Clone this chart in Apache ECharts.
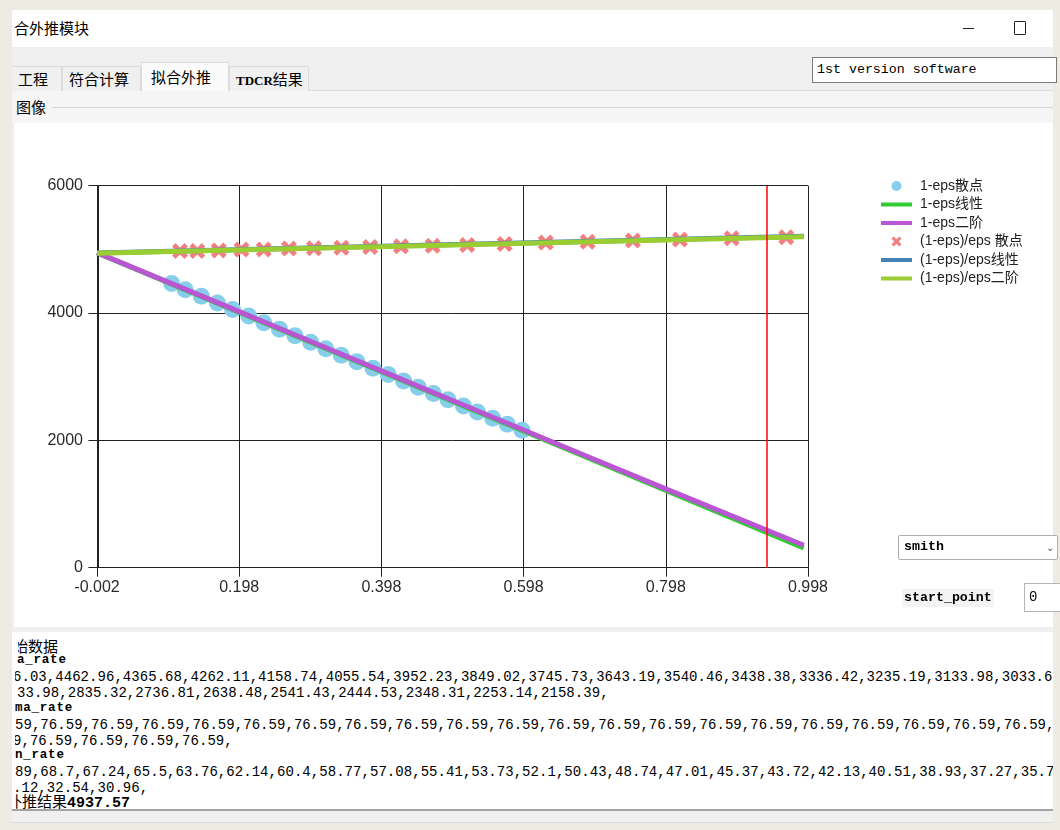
<!DOCTYPE html>
<html>
<head>
<meta charset="utf-8">
<script src="https://cdn.jsdelivr.net/npm/echarts@6/dist/echarts.min.js"></script>
<style>
html,body{margin:0;padding:0;width:1060px;height:830px;overflow:hidden;background:#eeebe2;font-family:"Noto Sans CJK SC","Liberation Sans",sans-serif;color:#000;}
.a{position:absolute;}
.mono{font-family:"Liberation Mono","DejaVu Sans Mono",monospace;white-space:pre;}
.tab{position:absolute;background:#f0f0f0;border:1px solid #dcdcdc;border-bottom:none;font-size:15px;line-height:24px;box-sizing:border-box;white-space:nowrap;}
.dl{position:absolute;left:0;white-space:pre;font-family:"Liberation Mono","DejaVu Sans Mono",monospace;font-size:14px;letter-spacing:0.05px;line-height:16px;}
.lb{position:absolute;white-space:pre;font-family:"Liberation Mono","DejaVu Sans Mono",monospace;font-size:12.5px;font-weight:bold;letter-spacing:0.8px;line-height:14px;}
</style>
</head>
<body>
<!-- window frame -->
<div class="a" style="left:12px;top:10px;width:1041px;height:812px;background:#f0f0f0;"></div>
<!-- title bar -->
<div class="a" style="left:12px;top:10px;width:1041px;height:37px;background:#ffffff;"></div>
<div class="a" style="left:14px;top:17px;font-size:15px;line-height:22px;">合外推模块</div>
<div class="a" style="left:963px;top:28px;width:11px;height:1px;background:#222;"></div>
<div class="a" style="left:1014px;top:21px;width:10px;height:12px;border:1px solid #222;border-radius:1px;"></div>
<!-- tabs -->
<div class="a" style="left:12px;top:90px;width:1041px;height:1px;background:#dcdcdc;"></div>
<div class="tab" style="left:12px;top:66px;width:50px;height:25px;border-left:none;padding-left:6px;">工程</div>
<div class="tab" style="left:62px;top:66px;width:79px;height:25px;padding-left:6px;">符合计算</div>
<div class="tab" style="left:141px;top:62px;width:88px;height:30px;background:#fafafa;padding-left:9px;line-height:28px;">拟合外推</div>
<div class="tab" style="left:229px;top:66px;width:80px;height:25px;padding-left:6px;"><span style="font-family:'Liberation Serif',serif;font-size:13px;font-weight:bold;">TDCR</span>结果</div>
<div class="a mono" style="left:812px;top:57px;width:245px;height:26px;box-sizing:border-box;border:1px solid #7a7a7a;background:#fff;font-size:13.3px;line-height:24px;padding-left:4px;">1st version software</div>
<!-- group box -->
<div class="a" style="left:12px;top:91px;width:1041px;height:32px;background:#f5f5f5;"></div>
<div class="a" style="left:52px;top:107px;width:1001px;height:1px;background:#d6d6d6;"></div>
<div class="a" style="left:16px;top:97px;font-size:15px;line-height:20px;">图像</div>
<!-- chart panel -->
<div class="a" style="left:14px;top:123px;width:1039px;height:504px;background:#fff;"></div>
<div id="chart" class="a" style="left:14px;top:123px;width:1039px;height:504px;"></div>
<!-- right controls -->
<div class="a" style="left:898px;top:535px;width:160px;height:25px;box-sizing:border-box;border:1px solid #adadad;border-radius:2px;background:#fff;"></div>
<div class="a mono" style="left:904px;top:538px;font-size:13.3px;font-weight:bold;line-height:18px;">smith</div>
<div class="a" style="left:1046px;top:541px;font-size:10px;color:#555;line-height:12px;">⌄</div>
<div class="a mono" style="left:902px;top:589px;padding:0 2px;background:#f3f3f3;font-size:13.3px;font-weight:bold;line-height:18px;">start_point</div>
<div class="a" style="left:1024px;top:583px;width:40px;height:29px;box-sizing:border-box;border:1px solid #b5b5b5;background:#fff;"></div>
<div class="a mono" style="left:1029px;top:588px;font-size:14px;line-height:18px;">0</div>
<!-- data text box -->
<div class="a" style="left:12px;top:627px;width:1041px;height:5px;background:#f0f0f0;"></div>
<div class="a" style="left:12px;top:632px;width:1041px;height:177px;background:#fff;border-bottom:2px solid #a3a3a3;"></div>
<div id="txt" class="a" style="left:15px;top:632px;width:1038px;height:177px;overflow:hidden;"></div>
<div class="a" style="left:12px;top:811px;width:1041px;height:11px;background:#f0f0f0;border-bottom:1px solid #dcdcdc;"></div>

<script>
// ---- data ----
const legendNames = ['1-eps散点', '1-eps线性', '1-eps二阶', '(1-eps)/eps 散点', '(1-eps)/eps线性', '(1-eps)/eps二阶'];
const xTickLabels = ['-0.002', '0.198', '0.398', '0.598', '0.798', '0.998'];
const yTickLabels = ['0', '2000', '4000', '6000'];

// 1-eps scatter
const oneMinusEps = [0.1030, 0.1221, 0.1448, 0.1675, 0.1887, 0.2114, 0.2327, 0.2547, 0.2765, 0.2985, 0.3198, 0.3416,
  0.3636, 0.3862, 0.4076, 0.4292, 0.4499, 0.4711, 0.4917, 0.5134, 0.5331, 0.5545, 0.5751, 0.5958];
const betaRate = [4462.96, 4365.68, 4262.11, 4158.74, 4055.54, 3952.23, 3849.02, 3745.73, 3643.19, 3540.46, 3438.38, 3336.42,
  3235.19, 3133.98, 3033.69, 2933.98, 2835.32, 2736.81, 2638.48, 2541.43, 2444.53, 2348.31, 2253.14, 2158.39];
// (1-eps)/eps scatter
const ratioX = [0.1148, 0.1391, 0.1693, 0.2012, 0.2325, 0.2680, 0.3032, 0.3418, 0.3822, 0.4255, 0.4701, 0.5187, 0.5714,
  0.6292, 0.6881, 0.7518, 0.8179, 0.8906, 0.9674];
const ratioY = [4975, 4973, 4984, 4996, 4999, 5012, 5016, 5026, 5036, 5047, 5055, 5067, 5084, 5106, 5121, 5140, 5155, 5174, 5191];
// fitted curves (sampled)
const lin1X = [-0.002, 0.992];
const lin1Y = [4945, 310];
const quad1X = [-0.002, 0.198, 0.398, 0.598, 0.798, 0.992];
const quad1Y = [4948, 4022, 3092, 2162, 1238, 352];
const lin2X = [-0.002, 0.992];
const lin2Y = [4944, 5206];
const quad2X = [-0.002, 0.5, 0.992];
const quad2Y = [4940, 5068, 5200];
const markX = 0.943;

// text box lines
const textLines = [
  {t: '原始数据', cls: 'cjk', top: 4, left: -17, clip: 3},
  {t: 'beta_rate', cls: 'lb', top: 21, left: -23},
  {t: '6.03,4462.96,4365.68,4262.11,4158.74,4055.54,3952.23,3849.02,3745.73,3643.19,3540.46,3438.38,3336.42,3235.19,3133.98,3033.69', cls: 'dl', top: 37, left: -2},
  {t: '33.98,2835.32,2736.81,2638.48,2541.43,2444.53,2348.31,2253.14,2158.39,', cls: 'dl', top: 53, left: 2},
  {t: 'gamma_rate', cls: 'lb', top: 69, left: -25},
  {t: '59,76.59,76.59,76.59,76.59,76.59,76.59,76.59,76.59,76.59,76.59,76.59,76.59,76.59,76.59,76.59,76.59,76.59,76.59,76.59,76.59,76.59,76.59', cls: 'dl', top: 85, left: 0},
  {t: '9,76.59,76.59,76.59,76.59,', cls: 'dl', top: 101, left: -2},
  {t: 'coin_rate', cls: 'lb', top: 116, left: -25},
  {t: '89,68.7,67.24,65.5,63.76,62.14,60.4,58.77,57.08,55.41,53.73,52.1,50.43,48.74,47.01,45.37,43.72,42.13,40.51,38.93,37.27,35.76', cls: 'dl', top: 132, left: 0},
  {t: '.12,32.54,30.96,', cls: 'dl', top: 148, left: -2},
  {t: '外推结果', cls: 'cjk', top: 159, left: -8, clip: 0, tail: '4937.57'}
];
</script>
<script>
(function(){
  const box = document.getElementById('txt');
  textLines.forEach(function(l){
    const d = document.createElement('div');
    d.style.position = 'absolute';
    d.style.whiteSpace = 'pre';
    if (l.cls === 'cjk') {
      // own clip so the first glyph is cut as in the screenshot
      const w = document.createElement('div');
      w.style.position = 'absolute';
      w.style.left = l.clip + 'px';
      w.style.top = l.top + 'px';
      w.style.width = '600px';
      w.style.height = '22px';
      w.style.overflow = 'hidden';
      d.style.left = (l.left - l.clip) + 'px';
      d.style.top = '0px';
      d.style.fontSize = '15px';
      d.style.lineHeight = '19px';
      d.textContent = l.t;
      if (l.tail) {
        const s = document.createElement('span');
        s.style.fontFamily = '"Liberation Mono",monospace';
        s.style.fontWeight = 'bold';
        s.style.fontSize = '15px';
        s.textContent = l.tail;
        d.appendChild(s);
      }
      w.appendChild(d);
      box.appendChild(w);
    } else {
      d.className = l.cls;
      d.style.top = l.top + 'px';
      d.style.left = l.left + 'px';
      d.textContent = l.t;
      box.appendChild(d);
    }
  });
})();

const pairs = (xs, ys) => xs.map((x, i) => [x, ys[i]]);
const crossPath = 'path://M0,2.2 L2.2,0 L5,2.8 L7.8,0 L10,2.2 L7.2,5 L10,7.8 L7.8,10 L5,7.2 L2.2,10 L0,7.8 L2.8,5 Z';
const lineIcon = 'path://M0,0 L31,0 L31,4 L0,4 Z';
const FONT = '"Liberation Sans","Noto Sans CJK SC",Arial,sans-serif';

const chart = echarts.init(document.getElementById('chart'), null, {renderer: 'canvas'});
chart.setOption({
  animation: false,
  backgroundColor: '#ffffff',
  grid: {left: 83, top: 62.7, width: 711, height: 382, containLabel: false},
  legend: {
    orient: 'vertical',
    left: 867, top: 56, padding: 0,
    itemWidth: 31, itemHeight: 10, itemGap: 4.5,
    textStyle: {fontSize: 14, color: '#222', fontFamily: FONT, padding: [0, 0, 0, 3]},
    data: legendNames.map((n, i) => ({name: n, icon: i === 0 ? 'circle' : (i === 3 ? crossPath : lineIcon)}))
  },
  xAxis: {
    type: 'value', min: -0.002, max: 0.998, interval: 0.2,
    axisLine: {show: true, onZero: false, lineStyle: {color: '#222', width: 1}},
    axisTick: {show: true, length: 9, lineStyle: {color: '#222'}},
    splitLine: {show: true, lineStyle: {color: '#222', width: 1}},
    axisLabel: {fontSize: 16, color: '#2b2b2b', margin: 12, fontFamily: FONT, showMinLabel: true, showMaxLabel: true,
      formatter: (v, i) => xTickLabels[i]}
  },
  yAxis: {
    type: 'value', min: 0, max: 6000, interval: 2000,
    axisLine: {show: true, lineStyle: {color: '#222', width: 1}},
    axisTick: {show: true, length: 10, lineStyle: {color: '#222'}},
    splitLine: {show: true, lineStyle: {color: '#222', width: 1}},
    axisLabel: {fontSize: 16, color: '#2b2b2b', margin: 14, fontFamily: FONT, formatter: (v, i) => yTickLabels[i]}
  },
  series: [
    {name: legendNames[0], type: 'scatter', data: pairs(oneMinusEps, betaRate), symbol: 'circle', symbolSize: 17,
      itemStyle: {color: '#87ceeb', opacity: 1}, z: 2},
    {name: legendNames[1], type: 'line', data: pairs(lin1X, lin1Y), symbol: 'none', showSymbol: false,
      itemStyle: {color: '#32cd32'}, lineStyle: {color: '#32cd32', width: 5}, z: 3},
    {name: legendNames[2], type: 'line', data: pairs(quad1X, quad1Y), symbol: 'none', showSymbol: false, smooth: true,
      itemStyle: {color: '#ba55d3'}, lineStyle: {color: '#ba55d3', width: 5}, z: 4},
    {name: legendNames[3], type: 'scatter', data: pairs(ratioX, ratioY), symbol: crossPath, symbolSize: 16,
      itemStyle: {color: '#f28080', opacity: 1}, z: 2},
    {name: legendNames[4], type: 'line', data: pairs(lin2X, lin2Y), symbol: 'none', showSymbol: false,
      itemStyle: {color: '#4682b4'}, lineStyle: {color: '#4682b4', width: 5}, z: 3,
      markLine: {silent: true, symbol: ['none', 'none'], label: {show: false}, emphasis: {disabled: true},
        lineStyle: {color: '#ff0000', width: 1.5, type: 'solid', opacity: 1}, data: [{xAxis: markX}]}},
    {name: legendNames[5], type: 'line', data: pairs(quad2X, quad2Y), symbol: 'none', showSymbol: false, smooth: true,
      itemStyle: {color: '#9acd32'}, lineStyle: {color: '#9acd32', width: 5}, z: 4}
  ]
});
</script>
</body>
</html>
